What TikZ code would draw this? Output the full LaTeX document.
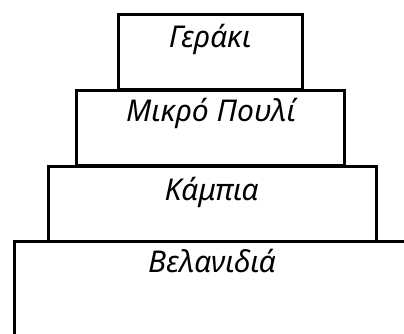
\documentclass[tikz,border=0pt]{standalone}
\usepackage{fontspec}
\setmainfont{Noto Sans}
\begin{document}
\begin{tikzpicture}[x=1pt,y=-1pt,
  tier/.style={draw=black, line width=2.5pt, rectangle, inner sep=0pt, anchor=north west},
  lbl/.style={anchor=base, font=\fontsize{30}{34}\selectfont\itshape, inner sep=0pt}]
\useasboundingbox (0,0) rectangle (404,333);
\node[tier, minimum width=400pt, minimum height=120pt] (b) at (13,240) {};
\node[tier, minimum width=328pt, minimum height=75pt] (c) at (47,165) {};
\node[tier, minimum width=268pt, minimum height=75pt] (m) at (75,89) {};
\node[tier, minimum width=184pt, minimum height=75pt] (g) at (117,13) {};
\node[lbl] (gl) at (210,47) {Γεράκι};
\node[lbl] (ml) at (211,121) {Μικρό Πουλί};
\node[lbl] (cl) at (211.5,200) {Κάμπια};
\node[lbl] (bl) at (212,272) {Βελανιδιά};
\end{tikzpicture}
\end{document}
